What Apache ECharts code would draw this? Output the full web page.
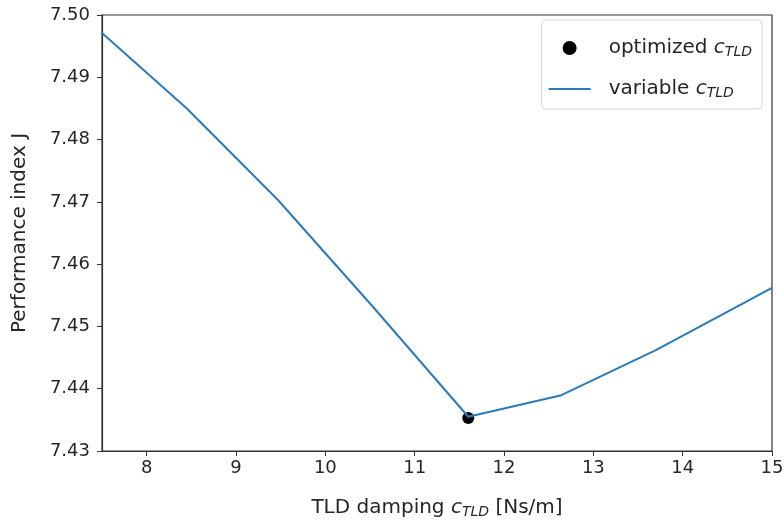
<!DOCTYPE html>
<html>
<head>
<meta charset="utf-8">
<script src="https://cdn.jsdelivr.net/npm/echarts@6/dist/echarts.min.js"></script>
<style>html,body{margin:0;padding:0;background:#fff}#c{width:784px;height:524px}</style>
</head>
<body>
<div id="c"></div>
<script>
// damping values c_TLD [Ns/m]
const dampingX = [7.5, 8.45, 9.47, 10.53, 11.6, 12.63, 13.7, 15];
// performance index J
const perfJ = [7.4971, 7.4850, 7.4703, 7.4532, 7.4355, 7.4389, 7.4462, 7.4562];
// optimized point
const optX = [11.6];
const optJ = [7.4353];
const xTicks = [8, 9, 10, 11, 12, 13, 14, 15];
const yMin = 7.43, yMax = 7.50, yStep = 0.01;

const FONT = 'DejaVu Sans';
const TXT = '#262626';
const chart = echarts.init(document.getElementById('c'));
function richSet(size) {
  return {
    t: {fontFamily: FONT, fontSize: size, color: TXT},
    c: {fontFamily: FONT, fontSize: size, fontStyle: 'italic', color: TXT},
    s: {fontFamily: FONT, fontSize: Math.round(size * 0.68), fontStyle: 'italic', color: TXT, padding: [8, 0, 0, 0]}
  };
}
chart.setOption({
  animation: false,
  grid: {left: 102, right: 12, top: 15, bottom: 73, outerBoundsMode: 'none', containLabel: false,
         show: true, borderColor: '#333', borderWidth: 1.2, backgroundColor: '#fff'},
  xAxis: {
    type: 'value', min: 7.5, max: 15,
    name: '{t|TLD damping }{c|c}{s|TLD}{t| [Ns/m]}',
    nameLocation: 'middle', nameGap: 46,
    nameTextStyle: {rich: richSet(20)},
    axisLine: {show: true, lineStyle: {color: '#333', width: 1.2}},
    axisTick: {show: true, length: 5, customValues: xTicks, lineStyle: {color: '#333'}},
    axisLabel: {customValues: xTicks, fontFamily: FONT, fontSize: 18, color: TXT, margin: 8},
    splitLine: {show: false}
  },
  yAxis: {
    type: 'value', min: yMin, max: yMax, interval: yStep,
    name: 'Performance index J', nameLocation: 'middle', nameGap: 72,
    nameTextStyle: {fontFamily: FONT, fontSize: 20, color: TXT},
    axisLine: {show: true, lineStyle: {color: '#333', width: 1.2}},
    axisTick: {show: true, length: 5, lineStyle: {color: '#333'}},
    axisLabel: {fontFamily: FONT, fontSize: 18, color: TXT, margin: 12, formatter: v => v.toFixed(2)},
    splitLine: {show: false}
  },
  legend: {
    orient: 'vertical', right: 22, top: 20,
    data: [{name: 'optimized', icon: 'circle'}, {name: 'variable', itemStyle: {opacity: 0}}],
    itemWidth: 42, itemHeight: 14, itemGap: 20,
    padding: [18, 10, 9, 6],
    borderColor: '#d6d6d6', borderWidth: 1, borderRadius: 4,
    backgroundColor: '#fff',
    formatter: n => '{t|' + n + ' }{c|c}{s|TLD}',
    textStyle: {rich: richSet(20), padding: [0, 0, 0, 13]}
  },
  series: [
    {name: 'optimized', type: 'scatter', data: optX.map((x, i) => [x, optJ[i]]),
     symbolSize: 12, itemStyle: {color: '#000', opacity: 1}, z: 2},
    {name: 'variable', type: 'line', data: dampingX.map((x, i) => [x, perfJ[i]]),
     symbol: 'none', lineStyle: {color: '#2b7bba', width: 2}, itemStyle: {color: '#2b7bba'}, z: 3}
  ]
});
</script>
</body>
</html>
